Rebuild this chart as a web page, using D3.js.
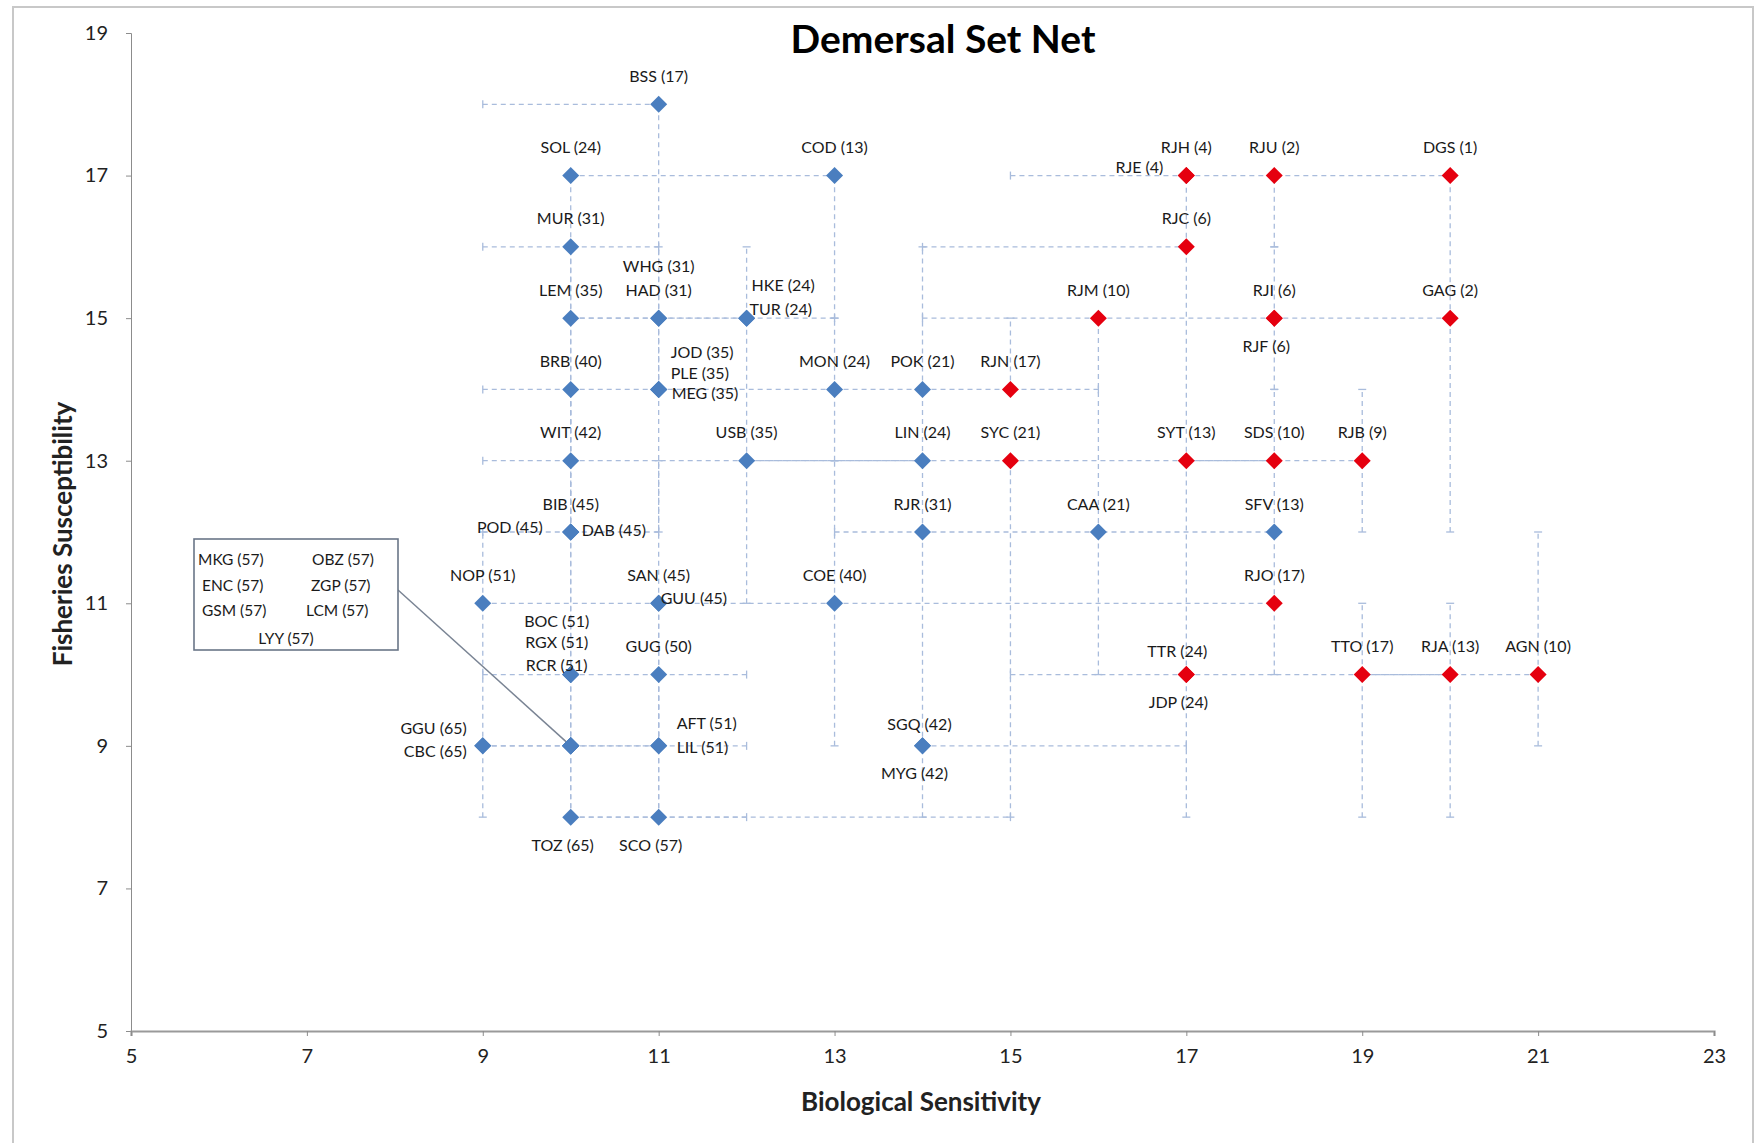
<!DOCTYPE html>
<html><head><meta charset="utf-8">
<script src="https://cdn.jsdelivr.net/npm/d3@7"></script>
<style>
body{margin:0;background:#fff}
svg text{font-family:Lato,"Open Sans","Liberation Sans",sans-serif;fill:#1a1a1a}
</style>
</head><body>
<svg id="c" width="1754" height="1143"></svg>
<script>
// ---------------- DATA ----------------
const species = ["BSS","SOL","COD","MUR","WHG","HAD","LEM","HKE","TUR","BRB","JOD","PLE","MEG","MON","POK","RJN",
  "WIT","USB","LIN","SYC","SYT","SDS","RJB","BIB","POD","DAB","RJR","CAA","SFV","NOP","SAN","GUU","COE","RJO",
  "BOC","RGX","RCR","GUG","TTR","JDP","TTO","RJA","AGN","GGU","CBC",
  "MKG","OBZ","ENC","ZGP","GSM","LCM","LYY",
  "AFT","LIL","SGQ","MYG","TOZ","SCO",
  "RJH","RJE","RJU","DGS","RJC","RJM","RJI","RJF","GAG"];
const scores = [17,24,13,31,31,31,35,24,24,40,35,35,35,24,21,17,
  42,35,24,21,13,10,9,45,45,45,31,21,13,51,45,45,40,17,
  51,51,51,50,24,24,17,13,10,65,65,
  57,57,57,57,57,57,57,
  51,51,42,42,65,57,
  4,4,2,1,6,10,6,6,2];
const biologicalSensitivity = [11,10,13,10,11,11,10,12,12,10,11,11,11,13,14,15,
  10,12,14,15,17,18,19,10,10,10,14,16,18,9,11,11,13,18,
  10,10,10,11,17,17,19,20,21,9,9,
  10,10,10,10,10,10,10,
  11,11,14,14,10,11,
  17,17,18,20,17,16,18,18,20];
const fisheriesSusceptibility = [18,17,17,16,15,15,15,15,15,14,14,14,14,14,14,14,
  13,13,13,13,13,13,13,12,12,12,12,12,12,11,11,11,11,11,
  10,10,10,10,10,10,10,10,10,9,9,
  9,9,9,9,9,9,9,
  9,9,9,9,8,8,
  17,17,17,17,16,15,15,15,15];
// risk group: "h" drawn red, "o" drawn blue
const riskGroup = ["o","o","o","o","o","o","o","o","o","o","o","o","o","o","o","h",
  "o","o","o","h","h","h","h","o","o","o","o","o","o","o","o","o","o","h",
  "o","o","o","o","h","h","h","h","h","o","o",
  "o","o","o","o","o","o","o",
  "o","o","o","o","o","o",
  "h","h","h","h","h","h","h","h","h"];
// uncertainty ranges (lower / upper) for each axis
const bioLow  = [9,10,13,9,11,10,10,11,12,9,10,11,11,11,13,14,
  9,10,12,14,15,17,19,9,10,10,13,14,18,9,11,11,13,18,
  9,10,10,10,15,17,17,19,21,9,9,
  9,10,10,10,10,10,10,
  10,11,14,14,10,10,
  15,17,17,20,14,14,16,18,18];
const bioHigh = [11,13,13,11,11,12,11,13,12,10,11,11,11,13,14,16,
  10,14,14,15,18,19,19,11,10,10,14,18,18,11,13,11,18,18,
  10,10,10,12,17,17,20,21,21,10,9,
  11,10,10,10,10,10,10,
  12,11,17,14,12,15,
  17,17,20,20,17,16,18,18,20];
const fishLow  = [15,15,15,14,15,14,13,13,15,12,12,14,14,13,14,14,
  12,11,12,8,10,12,12,10,12,12,9,10,11,9,9,11,9,10,
  9,10,10,9,8,10,8,8,9,8,9,
  8,9,9,9,9,9,9,
  8,9,8,9,8,8,
  16,17,16,15,13,12,14,15,12];
const fishHigh = [18,17,17,16,15,16,15,16,15,14,15,14,14,15,16,15,
  14,13,14,13,13,14,14,13,12,12,12,12,12,12,13,11,13,11,
  12,10,10,11,10,10,11,11,12,9,9,
  10,9,9,9,9,9,9,
  10,9,9,9,9,9,
  17,17,17,17,16,15,16,15,15];
const xTicks = [5,7,9,11,13,15,17,19,21,23];
const yTicks = [5,7,9,11,13,15,17,19];
const chartTitle = "Demersal Set Net";
const xTitle = "Biological Sensitivity";
const yTitle = "Fisheries Susceptibility";

// label layout (not data): how each species label sits around its marker
const labelPlacement = ["above","above","above","above","above2","above","above","upRight1","upRight2","above","right1","right2","right3","above","above","above",
  "above","above","above","above","above","above","above","above","left","right","above","above","above","above","above","tight","above","above",
  "stack1","stack2","stack3","above","aboveL","below","above","above","above","leftUp","leftDown",
  "box","box","box","box","box","box","box",
  "rightUp","rightMid","aboveS","below","below","below",
  "above","leftTop","above","above","above","above","above","below","above"];

// ---------------- LAYOUT ----------------
const svg = d3.select("#c");
svg.append("rect").attr("x",13).attr("y",7).attr("width",1740).attr("height",1150)
  .attr("fill","#fff").attr("stroke","#c8c8c8").attr("stroke-width",2);

const x = d3.scaleLinear().domain([5,23]).range([131,1714]);
const y = d3.scaleLinear().domain([5,19]).range([1031,33]);

const rows = species.map((s,i)=>({code:s, score:scores[i], bx:biologicalSensitivity[i], fy:fisheriesSusceptibility[i],
  risk:riskGroup[i], xl:bioLow[i], xh:bioHigh[i], yl:fishLow[i], yh:fishHigh[i], place:labelPlacement[i]}));

// axes
const gy = svg.append("g").attr("transform",`translate(${x(5)},0)`)
  .call(d3.axisLeft(y).tickValues(yTicks).tickSize(5).tickPadding(18).tickFormat(d3.format("d")));
const gx = svg.append("g").attr("transform",`translate(0,${y(5)})`)
  .call(d3.axisBottom(x).tickValues(xTicks).tickSize(5).tickPadding(13).tickFormat(d3.format("d")));
[gx,gy].forEach(g=>{
  g.selectAll("path").attr("stroke","#8c8c8c");
  g.selectAll("line").attr("stroke","#8c8c8c");
  g.selectAll("text").style("font-size","20px").style("fill","#222");
});
gx.select("path").attr("stroke-width",2.2).attr("stroke","#9a9a9a");

// error bars
const eb = svg.append("g").attr("stroke","#a9bcdc").attr("stroke-width",1.3).attr("fill","none");
const cap = 4;
rows.filter(r=>r.xh>r.xl).forEach(r=>{
  const yy=y(r.fy);
  eb.append("line").attr("x1",x(r.xl)).attr("x2",x(r.xh)).attr("y1",yy).attr("y2",yy).attr("stroke-dasharray","5,4");
  [r.xl,r.xh].forEach(v=>eb.append("line").attr("x1",x(v)).attr("x2",x(v)).attr("y1",yy-cap).attr("y2",yy+cap));
});
rows.filter(r=>r.yh>r.yl).forEach(r=>{
  const xx=x(r.bx);
  eb.append("line").attr("x1",xx).attr("x2",xx).attr("y1",y(r.yl)).attr("y2",y(r.yh)).attr("stroke-dasharray","5,4");
  [r.yl,r.yh].forEach(v=>eb.append("line").attr("y1",y(v)).attr("y2",y(v)).attr("x1",xx-cap).attr("x2",xx+cap));
});

// callout box for the grouped species
const boxRows = rows.filter(r=>r.place==="box");
const anchor = boxRows[0];
const box = {x:194,y:539,w:204,h:111};
svg.append("line").attr("x1",box.x+box.w).attr("y1",box.y+51).attr("x2",x(anchor.bx)).attr("y2",y(anchor.fy))
  .attr("stroke","#7a8494").attr("stroke-width",1.5);
svg.append("rect").attr("x",box.x).attr("y",box.y).attr("width",box.w).attr("height",box.h)
  .attr("fill","#fff").attr("stroke","#6a7688").attr("stroke-width",1.6);
const boxPos = [[198,559,"start"],[312,559,"start"],[202,585,"start"],[311,585,"start"],[202,610,"start"],[306,610,"start"],[286,638,"middle"]];
svg.append("g").selectAll("text").data(boxRows).join("text")
  .attr("x",(d,i)=>boxPos[i][0]).attr("y",(d,i)=>boxPos[i][1]).attr("text-anchor",(d,i)=>boxPos[i][2])
  .attr("dominant-baseline","central").style("font-size","15.5px")
  .text(d=>`${d.code} (${d.score})`);

// markers
const diamond = "M0,-8.5L8.5,0L0,8.5L-8.5,0Z";
svg.append("g").selectAll("path").data(rows).join("path")
  .attr("d",diamond).attr("transform",d=>`translate(${x(d.bx)},${y(d.fy)})`)
  .attr("fill",d=>d.risk==="h"?"#e5000f":"#4a7ebf");

// labels
const P = {
  above:[0,-29,"middle"], above2:[0,-53,"middle"], aboveL:[-9,-24,"middle"], aboveS:[-3,-22,"middle"],
  below:[-8,27,"middle"],
  upRight1:[5,-34,"start"], upRight2:[3,-10,"start"],
  right1:[12,-38,"start"], right2:[12,-17,"start"], right3:[13,3,"start"],
  left:[-28,-6,"end"], right:[11,-3,"start"], tight:[2,-6,"start"],
  stack1:[-14,-54,"middle"], stack2:[-14,-33,"middle"], stack3:[-14,-10,"middle"],
  leftUp:[-16,-18,"end"], leftDown:[-16,5,"end"],
  rightUp:[18,-23,"start"], rightMid:[18,1,"start"],
  leftTop:[-23,-9,"end"]
};
svg.append("g").selectAll("text").data(rows.filter(r=>r.place!=="box")).join("text")
  .attr("x",d=>x(d.bx)+P[d.place][0]).attr("y",d=>y(d.fy)+P[d.place][1])
  .attr("text-anchor",d=>P[d.place][2])
  .attr("dominant-baseline","central").style("font-size","16px")
  .text(d=>`${d.code} (${d.score})`);

// titles
svg.append("text").attr("x",943).attr("y",38).attr("text-anchor","middle").attr("dominant-baseline","central")
  .style("font-size","39px").style("font-weight","bold").style("fill","#000").text(chartTitle);
svg.append("text").attr("x",921).attr("y",1101).attr("text-anchor","middle").attr("dominant-baseline","central")
  .style("font-size","26px").style("font-weight","bold").style("fill","#222").text(xTitle);
svg.append("text").attr("transform","translate(62,534) rotate(-90)").attr("text-anchor","middle").attr("dominant-baseline","central")
  .style("font-size","26px").style("font-weight","bold").style("fill","#222").text(yTitle);
</script>
</body></html>
